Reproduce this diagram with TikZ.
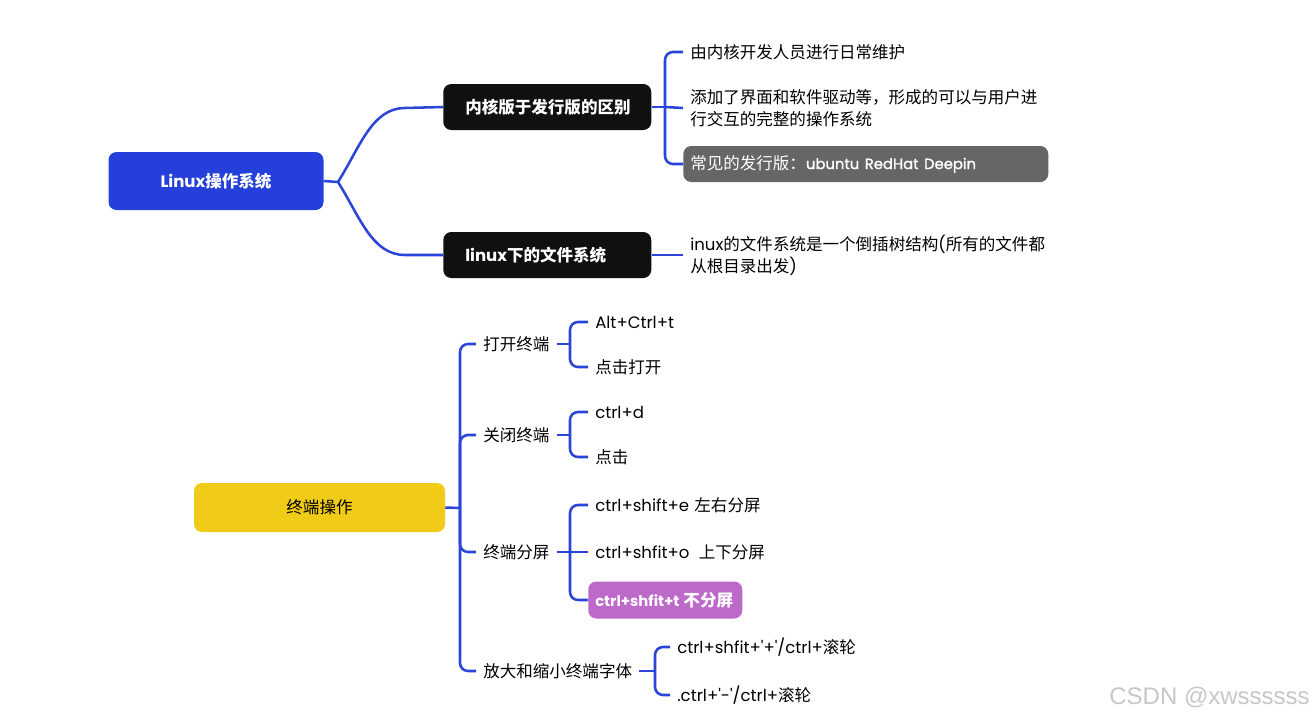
\documentclass[tikz,border=0pt]{standalone}
\usepackage{fontspec}
\setmainfont{Noto Sans CJK SC}
\newfontfamily\popf{Poppins}
\newfontfamily\popfb[FakeBold=1.2]{Poppins}
\newfontfamily\wmf{Liberation Sans}
\newcommand\pp[1]{{\popf #1}}
\newcommand\ppb[1]{{\popfb\mdseries #1}}
\definecolor{linkblue}{HTML}{2B45D8}
\definecolor{rootblue}{HTML}{2540DA}
\definecolor{darkbg}{HTML}{101010}
\definecolor{greybg}{HTML}{666666}
\definecolor{purplebg}{HTML}{BD69C9}
\definecolor{yellowbg}{HTML}{F0CB17}
\tikzset{
  link/.style={draw=linkblue, line width=1.9pt, rounded corners=6pt},
  basefont/.style={font=\fontsize{12.4}{16.5}\selectfont},
  txt/.style={basefont, anchor=west, inner xsep=5.25pt, inner ysep=0pt, align=left, text=black},
  rootbox/.style={basefont, fill=rootblue, text=white, rounded corners=6pt,
    minimum width=161.25pt, minimum height=43.5pt, font=\fontsize{12.4}{16.5}\selectfont\bfseries},
  darkbox/.style={fill=darkbg, text=white, rounded corners=6pt, anchor=west,
    minimum height=34.5pt, inner xsep=16.5pt, text width=123pt, align=left,
    font=\fontsize{12.4}{16.5}\selectfont\bfseries},
  greybox/.style={basefont, fill=greybg, text=white, rounded corners=6pt, anchor=west,
    minimum height=27pt, inner xsep=5.25pt, text width=263.25pt, align=left},
  purplebox/.style={fill=purplebg, text=white, rounded corners=6pt, anchor=west,
    minimum height=27.75pt, inner xsep=5.25pt, text width=105pt, align=left,
    font=\fontsize{12.4}{16.5}\selectfont\bfseries},
  yellowbox/.style={basefont, fill=yellowbg, text=black, rounded corners=6pt,
    minimum width=188.25pt, minimum height=36.75pt},
}
\begin{document}
\begin{tikzpicture}[x=0.75pt,y=-0.75pt]
\useasboundingbox (0,0) rectangle (1314,721);

% ---- Linux overview ----
\node[rootbox] (root) at (216,181) {\pp{Linux}操作系统};
\node[darkbox] (kern) at (443,107) {内核版于发行版的区别};
\node[darkbox] (fs) at (443,255) {\pp{linux}下的文件系统};

\coordinate (rj) at (338,182);
\draw[link] (root.east) -- (rj);
\draw[link, rounded corners=0pt] (rj) .. controls (360,147) and (372,108) .. (405,108) -- (kern.west);
\draw[link, rounded corners=0pt] (rj) .. controls (360,217) and (372,255) .. (405,255) -- (fs.west);

\node[txt] (k1) at (683,52) {由内核开发人员进行日常维护};
\node[txt] (k2) at (683,108) {添加了界面和软件驱动等，形成的可以与用户进\\行交互的完整的操作系统};
\node[greybox] (k3) at (683,164) {常见的发行版：{\fontsize{11.1}{16.5}\selectfont\ppb{ubuntu RedHat Deepin}}};
\coordinate (kj) at (665,107);
\draw[link] (kern.east) -- (kj);
\draw[link] (kj) |- (k1.west);
\draw[link] (kj) -- (k2.west);
\draw[link] (kj) |- (k3.west);

\node[txt] (f1) at (683,255) {\pp{inux}的文件系统是一个倒插树结构\pp{(}所有的文件都\\从根目录出发\pp{)}};
\draw[link] (fs.east) -- (f1.west);

% ---- terminal operations ----
\node[yellowbox] (term) at (319.5,507.5) {终端操作};
\coordinate (tj) at (460,508);
\draw[link] (term.east) -- (tj);

\node[txt] (t1) at (476,344) {打开终端};
\node[txt] (t2) at (476,435) {关闭终端};
\node[txt] (t3) at (476,552) {终端分屏};
\node[txt] (t4) at (476,671) {放大和缩小终端字体};
\foreach \n in {t1,t2,t3,t4} \draw[link] (tj) |- (\n.west);

% open
\node[txt] (t1a) at (588,322) {\pp{Alt+Ctrl+t}};
\node[txt] (t1b) at (588,367) {点击打开};
\coordinate (t1j) at (570,344);
\draw[link] (t1.east) -- (t1j);
\draw[link] (t1j) |- (t1a.west);
\draw[link] (t1j) |- (t1b.west);

% close
\node[txt] (t2a) at (588,412) {\pp{ctrl+d}};
\node[txt] (t2b) at (588,457) {点击};
\coordinate (t2j) at (570,435);
\draw[link] (t2.east) -- (t2j);
\draw[link] (t2j) |- (t2a.west);
\draw[link] (t2j) |- (t2b.west);

% split
\node[txt] (t3a) at (588,505) {\pp{ctrl+shift+e}\hspace{4pt}左右分屏};
\node[txt] (t3b) at (588,552) {\pp{ctrl+shfit+o}\hspace{7pt}上下分屏};
\node[purplebox] (t3c) at (588,600) {{\fontsize{11.1}{16.5}\selectfont\popf\bfseries ctrl+shfit+t}\hspace{3pt}不分屏};
\coordinate (t3j) at (570,552);
\draw[link] (t3.east) -- (t3j);
\draw[link] (t3j) |- (t3a.west);
\draw[link] (t3j) -- (t3b.west);
\draw[link] (t3j) |- (t3c.west);

% zoom
\node[txt] (t4a) at (670,647) {\pp{ctrl+shfit+'+'/ctrl+}滚轮};
\node[txt] (t4b) at (670,695) {\pp{.ctrl+'-'/ctrl+}滚轮};
\coordinate (t4j) at (655,671);
\draw[link] (t4.east) -- (t4j);
\draw[link] (t4j) |- (t4a.west);
\draw[link] (t4j) |- (t4b.west);

% watermark
\node[text=black!22, font=\wmf\fontsize{18}{21}\selectfont, anchor=east, inner sep=0pt] (wm) at (1310,697) {CSDN @xwssssss};
\end{tikzpicture}
\end{document}
